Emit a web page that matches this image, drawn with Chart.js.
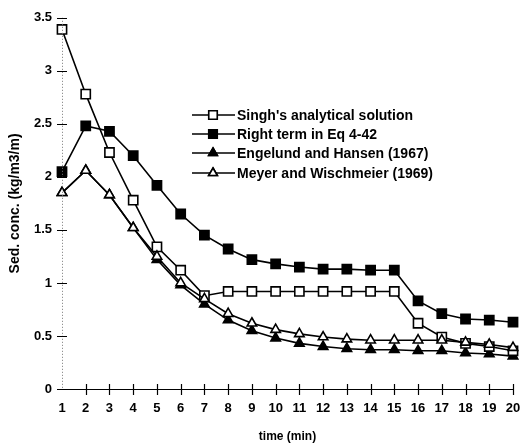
<!DOCTYPE html>
<html>
<head>
<meta charset="utf-8">
<script src="https://cdn.jsdelivr.net/npm/chart.js@4/dist/chart.umd.min.js"></script>
<style>
  body { margin: 0; background: #fff; }
  canvas { display: block; }
</style>
</head>
<body>
<canvas id="sedChart" width="522" height="448"></canvas>
<script>
const timeMin = ["1", "2", "3", "4", "5", "6", "7", "8", "9", "10",
                 "11", "12", "13", "14", "15", "16", "17", "18", "19", "20"];
const singh = [3.39, 2.78, 2.23, 1.78, 1.34, 1.12, 0.88, 0.92, 0.92, 0.92,
               0.92, 0.92, 0.92, 0.92, 0.92, 0.62, 0.49, 0.43, 0.40, 0.36];
const rightTerm = [2.05, 2.48, 2.43, 2.20, 1.92, 1.65, 1.45, 1.32, 1.22, 1.18,
                   1.15, 1.13, 1.13, 1.12, 1.12, 0.83, 0.71, 0.66, 0.65, 0.63];
const engelund = [1.85, 2.06, 1.83, 1.52, 1.22, 0.98, 0.80, 0.65, 0.55, 0.48,
                  0.43, 0.40, 0.38, 0.37, 0.37, 0.36, 0.36, 0.34, 0.33, 0.31];
const meyer = [1.85, 2.06, 1.83, 1.52, 1.25, 1.00, 0.85, 0.71, 0.62, 0.56,
               0.52, 0.49, 0.47, 0.46, 0.46, 0.46, 0.46, 0.44, 0.42, 0.39];
const seriesNames = ["Singh's analytical solution", "Right term in Eq 4-42",
                     "Engelund and Hansen (1967)", "Meyer and Wischmeier (1969)"];

const FONT = "'Liberation Sans', Arial, sans-serif";

const series = (label, data, style, filled, radius, order) => ({
  label, data, order,
  borderColor: "#000",
  borderWidth: 1.6,
  pointStyle: style,
  pointRadius: radius,
  pointBorderWidth: 1.6,
  pointBorderColor: "#000",
  pointBackgroundColor: filled ? "#000" : "#fff",
  tension: 0,
  fill: false,
});

// axis lines, crossing tick marks and the legend block
const axesAndLegend = {
  id: "axesAndLegend",
  afterDatasetsDraw(chart) {
    const { ctx, chartArea: a, scales: { x, y } } = chart;
    ctx.save();
    ctx.lineWidth = 1;

    // dotted y axis
    ctx.setLineDash([1, 2]);
    ctx.strokeStyle = "#777";
    ctx.beginPath();
    ctx.moveTo(a.left + 0.5, a.top);
    ctx.lineTo(a.left + 0.5, a.bottom);
    ctx.stroke();
    ctx.setLineDash([]);
    ctx.strokeStyle = "#000";
    y.ticks.forEach(t => {
      const py = Math.round(y.getPixelForValue(t.value)) + 0.5;
      ctx.beginPath();
      ctx.moveTo(a.left - 5, py);
      ctx.lineTo(a.left + 5, py);
      ctx.stroke();
    });

    // solid x axis
    ctx.lineWidth = 1.2;
    ctx.beginPath();
    ctx.moveTo(a.left, a.bottom + 0.5);
    ctx.lineTo(a.right, a.bottom + 0.5);
    ctx.stroke();
    x.ticks.forEach((t, i) => {
      if (i === 0) return;
      const px = Math.round(x.getPixelForTick(i)) + 0.5;
      ctx.beginPath();
      ctx.moveTo(px, a.bottom - 5);
      ctx.lineTo(px, a.bottom + 6);
      ctx.stroke();
    });

    // legend
    const lx0 = 192, lx1 = 235, mx = 213, tx = 237;
    const rows = [115, 134, 153, 173];
    ctx.font = "bold 14px " + FONT;
    ctx.textBaseline = "middle";
    chart.data.datasets.forEach((ds, i) => {
      const ly = rows[i];
      ctx.lineWidth = 1.6;
      ctx.strokeStyle = "#000";
      ctx.beginPath();
      ctx.moveTo(lx0, ly);
      ctx.lineTo(lx1, ly);
      ctx.stroke();
      Chart.helpers.drawPoint(ctx, {
        pointStyle: ds.pointStyle,
        radius: ds.pointRadius - 0.5,
        borderWidth: 1.6,
        rotation: 0,
      }, mx, ly);
      ctx.fillStyle = ds.pointBackgroundColor;
      ctx.fill();
      ctx.stroke();
      ctx.fillStyle = "#000";
      ctx.fillText(seriesNames[i], tx, ly + 1);
    });
    ctx.restore();
  },
};

new Chart(document.getElementById("sedChart"), {
  type: "line",
  data: {
    labels: timeMin,
    datasets: [
      series(seriesNames[0], singh, "rect", false, 6.5, 1),
      series(seriesNames[1], rightTerm, "rect", true, 6.5, 2),
      series(seriesNames[2], engelund, "triangle", true, 5.5, 3),
      series(seriesNames[3], meyer, "triangle", false, 5.5, 0),
    ],
  },
  options: {
    responsive: false,
    animation: false,
    layout: { autoPadding: false, padding: { top: 11, right: 9, left: 0, bottom: 0 } },
    plugins: { legend: { display: false }, tooltip: { enabled: false } },
    scales: {
      x: {
        offset: false,
        grid: { display: false, drawTicks: false },
        border: { display: false },
        ticks: {
          color: "#000", padding: 12, maxRotation: 0, autoSkip: false,
          font: { family: FONT, size: 13, weight: "bold" },
        },
        title: {
          display: true, text: "time (min)", color: "#000",
          padding: { top: 0, bottom: 4 },
          font: { family: FONT, size: 12, weight: "bold" },
        },
        afterFit(scale) {
          scale.height = 59;
          scale.paddingLeft = 0;
          scale.paddingRight = 0;
        },
      },
      y: {
        min: 0, max: 3.5,
        grid: { display: false, drawTicks: false },
        border: { display: false },
        ticks: {
          stepSize: 0.5, color: "#000", padding: 10,
          font: { family: FONT, size: 13, weight: "bold" },
          callback: v => String(v),
        },
        title: {
          display: true, text: "Sed. conc. (kg/m3/m)", color: "#000",
          padding: { top: 7, bottom: 0 },
          font: { family: FONT, size: 14, weight: "bold" },
        },
        afterFit(scale) { scale.width = 62; },
      },
    },
  },
  plugins: [axesAndLegend],
});
</script>
</body>
</html>
